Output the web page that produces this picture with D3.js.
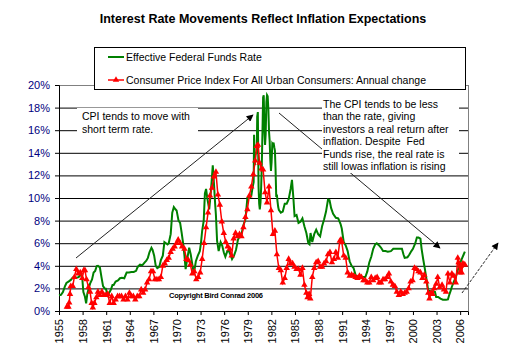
<!DOCTYPE html>
<html>
<head>
<meta charset="utf-8">
<script src="https://cdn.jsdelivr.net/npm/d3@7"></script>
<style>
body { margin: 0; background: #fff; }
svg { font-family: "Liberation Sans", Arial, sans-serif; }
</style>
</head>
<body>
<div id="chart"></div>
<script>
// values: [year, percent]
var fedFundsRate = [
 [1955.0,1.39],[1955.25,1.43],[1955.5,1.68],[1955.75,2.18],[1955.95,2.48],
 [1956.25,2.62],[1956.5,2.75],[1956.75,2.96],[1957.0,2.95],[1957.25,2.96],[1957.5,3.0],[1957.75,3.24],[1957.95,2.98],
 [1958.1,1.67],[1958.3,1.26],[1958.45,0.68],[1958.6,1.53],[1958.8,2.05],[1958.95,2.42],
 [1959.2,2.8],[1959.4,3.4],[1959.6,3.55],[1959.8,3.98],[1959.95,4.0],
 [1960.2,3.84],[1960.4,3.0],[1960.6,2.2],[1960.8,2.0],[1960.95,1.98],
 [1961.2,1.4],[1961.4,1.64],[1961.6,1.9],[1961.8,2.3],[1961.95,2.3],
 [1962.2,2.6],[1962.5,2.7],[1962.75,2.9],[1963.0,2.95],[1963.3,2.9],[1963.6,3.4],[1963.9,3.4],
 [1964.2,3.45],[1964.5,3.45],[1964.8,3.55],[1965.0,3.9],[1965.3,4.1],[1965.6,4.05],[1965.9,4.3],
 [1966.1,4.45],[1966.3,4.7],[1966.5,5.2],[1966.75,5.6],[1966.9,5.4],[1967.1,4.9],[1967.3,4.0],[1967.5,3.8],[1967.75,3.9],[1967.95,4.5],
 [1968.2,4.9],[1968.4,6.1],[1968.6,6.0],[1968.8,5.9],[1968.95,6.0],
 [1969.2,6.8],[1969.4,8.7],[1969.6,9.2],[1969.8,9.0],[1969.95,8.9],
 [1970.2,8.0],[1970.4,7.8],[1970.6,6.9],[1970.8,5.9],[1970.95,4.9],
 [1971.1,3.7],[1971.3,4.6],[1971.55,5.6],[1971.75,5.0],[1971.95,4.1],
 [1972.15,3.3],[1972.4,4.4],[1972.65,4.9],[1972.9,5.3],
 [1973.05,6.0],[1973.2,7.1],[1973.4,8.0],[1973.55,10.4],[1973.7,10.8],[1973.85,10.0],
 [1974.1,9.0],[1974.3,10.5],[1974.45,11.9],[1974.55,12.9],[1974.7,11.3],[1974.85,9.5],[1974.95,8.5],
 [1975.1,6.2],[1975.3,5.3],[1975.55,6.1],[1975.75,5.8],[1975.95,5.2],
 [1976.15,4.8],[1976.4,5.3],[1976.6,5.3],[1976.85,4.9],[1977.0,4.6],[1977.25,4.9],[1977.5,5.4],[1977.75,6.3],[1977.95,6.6],
 [1978.2,6.8],[1978.45,7.6],[1978.7,8.1],[1978.95,10.0],
 [1979.2,10.0],[1979.45,10.2],[1979.6,10.9],[1979.75,11.4],[1979.8,15.6],[1979.9,12.9],[1979.95,13.8],
 [1980.05,14.0],[1980.15,14.1],[1980.2,17.2],[1980.28,17.6],[1980.37,11.0],[1980.45,9.5],[1980.53,9.0],[1980.62,9.6],[1980.7,10.9],[1980.78,12.8],[1980.87,15.9],[1980.95,18.9],
 [1981.03,19.1],[1981.12,15.9],[1981.2,14.7],[1981.28,15.7],[1981.37,18.5],[1981.45,19.1],[1981.53,19.0],[1981.62,17.8],[1981.7,15.9],[1981.78,15.1],[1981.87,13.3],[1981.95,12.4],
 [1982.03,13.2],[1982.12,14.8],[1982.2,14.7],[1982.28,14.9],[1982.37,14.5],[1982.45,14.2],[1982.53,12.6],[1982.62,10.1],[1982.7,10.3],[1982.78,9.7],[1982.87,9.2],[1982.95,8.95],
 [1983.2,8.7],[1983.45,8.8],[1983.7,9.5],[1983.95,9.5],
 [1984.2,9.9],[1984.45,10.8],[1984.62,11.6],[1984.8,10.0],[1984.95,8.4],
 [1985.2,8.5],[1985.45,7.8],[1985.7,7.9],[1985.95,8.2],
 [1986.2,7.5],[1986.45,6.9],[1986.7,6.0],[1986.85,5.9],[1986.98,6.9],
 [1987.2,6.1],[1987.45,6.8],[1987.7,7.2],[1987.95,6.8],
 [1988.2,6.6],[1988.45,7.5],[1988.7,8.1],[1988.95,8.8],
 [1989.2,9.85],[1989.4,9.8],[1989.6,9.1],[1989.85,8.6],
 [1990.2,8.25],[1990.5,8.2],[1990.8,7.7],[1990.95,7.3],
 [1991.2,6.1],[1991.45,5.8],[1991.7,5.3],[1991.95,4.4],
 [1992.2,4.0],[1992.45,3.8],[1992.7,3.2],[1992.95,3.0],
 [1993.3,3.0],[1993.6,3.0],[1993.95,3.0],
 [1994.2,3.5],[1994.45,4.3],[1994.7,4.8],[1994.95,5.5],
 [1995.2,5.9],[1995.4,6.0],[1995.7,5.8],[1995.95,5.6],
 [1996.2,5.3],[1996.5,5.3],[1996.8,5.25],[1997.2,5.3],[1997.5,5.5],[1997.95,5.5],
 [1998.3,5.5],[1998.6,5.5],[1998.8,5.0],[1998.95,4.7],
 [1999.3,4.75],[1999.55,5.0],[1999.8,5.3],[2000.0,5.5],
 [2000.3,6.0],[2000.5,6.5],[2000.7,6.5],[2000.95,6.4],
 [2001.1,5.5],[2001.3,4.6],[2001.5,3.8],[2001.7,2.9],[2001.95,1.8],
 [2002.2,1.75],[2002.5,1.75],[2002.8,1.7],[2002.95,1.25],
 [2003.2,1.25],[2003.5,1.1],[2003.8,1.0],[2004.2,1.0],[2004.45,1.03],
 [2004.6,1.4],[2004.8,1.8],[2004.95,2.15],[2005.2,2.6],[2005.45,3.0],[2005.7,3.6],[2005.95,4.15],
 [2006.2,4.6],[2006.45,5.0],[2006.6,5.25]
];

var cpiAnnualChange = [
 [1956.0,0.37],[1956.2,0.37],[1956.3,0.74],[1956.4,1.5],[1956.5,2.2],[1956.75,2.2],[1956.95,3.0],
 [1957.2,3.7],[1957.45,3.3],[1957.7,3.4],[1957.95,2.9],
 [1958.15,3.6],[1958.3,3.6],[1958.5,2.8],[1958.75,2.1],[1958.95,1.7],
 [1959.15,0.7],[1959.3,0.3],[1959.5,0.7],[1959.75,1.2],[1959.95,1.7],
 [1960.2,1.4],[1960.45,1.7],[1960.7,1.4],[1960.95,1.4],
 [1961.2,1.5],[1961.45,0.7],[1961.7,1.3],[1961.95,0.7],
 [1962.2,1.0],[1962.45,1.3],[1962.7,1.3],[1962.95,1.3],
 [1963.2,1.0],[1963.45,1.3],[1963.7,1.0],[1963.95,1.6],
 [1964.2,1.3],[1964.45,1.3],[1964.7,1.0],[1964.95,1.3],
 [1965.2,1.3],[1965.45,1.9],[1965.7,1.6],[1965.95,1.9],
 [1966.2,2.5],[1966.45,2.8],[1966.7,3.5],[1966.95,3.5],
 [1967.2,2.8],[1967.45,2.8],[1967.7,2.8],[1967.95,3.0],
 [1968.2,4.0],[1968.45,4.2],[1968.7,4.5],[1968.95,4.7],
 [1969.2,5.2],[1969.45,5.5],[1969.7,5.7],[1969.95,6.0],
 [1970.15,6.3],[1970.4,6.0],[1970.65,5.7],[1970.95,5.5],
 [1971.2,4.6],[1971.45,4.5],[1971.7,4.1],[1971.95,3.3],
 [1972.2,3.5],[1972.45,2.8],[1972.7,3.0],[1972.95,3.4],
 [1973.2,4.6],[1973.45,6.0],[1973.7,7.4],[1973.95,8.7],
 [1974.2,10.2],[1974.45,10.9],[1974.7,11.9],[1974.95,12.3],
 [1975.2,10.3],[1975.45,9.4],[1975.7,7.9],[1975.95,6.9],
 [1976.2,6.1],[1976.45,5.7],[1976.7,5.5],[1976.95,4.9],
 [1977.2,6.4],[1977.45,6.9],[1977.7,6.6],[1977.95,6.8],
 [1978.2,6.6],[1978.45,7.4],[1978.7,8.3],[1978.95,9.0],
 [1979.2,10.2],[1979.45,11.0],[1979.7,12.1],[1979.95,13.3],
 [1980.15,14.6],[1980.3,14.7],[1980.5,13.1],[1980.75,12.6],[1980.95,12.5],
 [1981.2,10.5],[1981.45,9.6],[1981.7,11.0],[1981.95,8.9],
 [1982.2,6.8],[1982.45,7.1],[1982.7,5.0],[1982.95,3.8],
 [1983.2,3.6],[1983.45,2.5],[1983.7,2.9],[1983.95,3.8],
 [1984.2,4.6],[1984.45,4.2],[1984.7,4.2],[1984.95,3.9],
 [1985.2,3.7],[1985.45,3.7],[1985.7,3.2],[1985.95,3.8],
 [1986.2,2.3],[1986.45,1.6],[1986.6,1.2],[1986.8,1.5],[1986.95,1.1],
 [1987.2,3.0],[1987.45,3.8],[1987.7,4.3],[1987.95,4.4],
 [1988.2,3.9],[1988.45,3.9],[1988.7,4.2],[1988.95,4.4],
 [1989.2,5.0],[1989.45,5.2],[1989.7,4.3],[1989.95,4.6],
 [1990.2,5.2],[1990.45,4.7],[1990.7,6.2],[1990.85,6.3],[1990.95,6.1],
 [1991.2,4.9],[1991.45,4.7],[1991.7,3.4],[1991.95,3.1],
 [1992.2,3.2],[1992.45,3.1],[1992.7,3.0],[1992.95,2.9],
 [1993.2,3.1],[1993.45,3.0],[1993.7,2.7],[1993.95,2.7],
 [1994.2,2.5],[1994.45,2.5],[1994.7,3.0],[1994.95,2.7],
 [1995.2,2.9],[1995.45,3.0],[1995.7,2.5],[1995.95,2.5],
 [1996.2,2.8],[1996.45,2.8],[1996.7,3.0],[1996.95,3.3],
 [1997.2,2.6],[1997.45,2.3],[1997.7,2.2],[1997.95,1.7],
 [1998.2,1.4],[1998.45,1.7],[1998.7,1.5],[1998.95,1.6],
 [1999.2,1.7],[1999.45,2.0],[1999.7,2.6],[1999.95,2.7],
 [2000.2,3.8],[2000.45,3.7],[2000.7,3.5],[2000.95,3.4],
 [2001.2,2.9],[2001.45,3.2],[2001.7,2.6],[2001.95,1.6],
 [2002.1,1.1],[2002.3,1.6],[2002.5,1.5],[2002.7,2.0],[2002.95,2.4],
 [2003.15,3.0],[2003.4,2.1],[2003.7,2.3],[2003.95,1.9],
 [2004.2,1.7],[2004.45,3.3],[2004.7,2.5],[2004.95,3.3],
 [2005.2,3.1],[2005.45,2.5],[2005.7,4.7],[2005.8,4.3],[2005.95,3.4],
 [2006.1,4.0],[2006.2,3.4],[2006.35,4.2],[2006.5,4.1],[2006.6,4.1]
];

var yearTicks = [1955,1958,1961,1964,1967,1970,1973,1976,1979,1982,1985,1988,1991,1994,1997,2000,2003,2006];
var percentTicks = [0,2,4,6,8,10,12,14,16,18,20];

var chartTitle = "Interest Rate Movements Reflect Inflation Expectations";
var seriesNames = ["Effective Federal Funds Rate", "Consumer Price Index For All Urban Consumers: Annual change"];
var note1 = ["CPI tends to move with", "short term rate."];
var note2 = ["The CPI tends to be less", "than the rate, giving", "investors a real return after",
             "inflation. Despite  Fed", "Funds rise, the real rate is", "still lowas inflation is rising"];
var copyrightText = "Copyright Bird Conrad 2006";

var W = 516, H = 353;
var plotLeft = 59, plotRight = 468, plotTop = 85, plotBottom = 311;

var svg = d3.select("#chart").append("svg")
  .attr("width", W).attr("height", H);

var defs = svg.append("defs");
defs.append("marker")
  .attr("id", "arrow")
  .attr("viewBox", "0 0 10 10")
  .attr("refX", 9).attr("refY", 5)
  .attr("markerWidth", 9).attr("markerHeight", 7)
  .attr("markerUnits", "userSpaceOnUse")
  .attr("orient", "auto")
  .append("path").attr("d", "M0,0 L10,5 L0,10 z").attr("fill", "#000");

var x = d3.scaleLinear().domain([1955, 2007]).range([plotLeft, plotRight]);
var y = d3.scaleLinear().domain([0, 20]).range([plotBottom, plotTop]);

// title
svg.append("text")
  .attr("x", 263).attr("y", 23)
  .attr("text-anchor", "middle")
  .style("font-weight", "bold").style("font-size", "12.5px")
  .text(chartTitle);

// gridlines
svg.append("g")
  .attr("transform", "translate(" + plotLeft + ",0)")
  .call(d3.axisLeft(y).tickValues(percentTicks.slice(1, -1)).tickSize(-(plotRight - plotLeft)).tickFormat(""))
  .call(function(g) {
    g.select(".domain").remove();
    g.selectAll("line").attr("stroke", "#000");
  });

// plot border top / right
svg.append("line").attr("x1", plotLeft).attr("x2", plotRight).attr("y1", plotTop + 0.5).attr("y2", plotTop + 0.5)
  .attr("stroke", "#808080");
svg.append("line").attr("x1", plotRight + 0.5).attr("x2", plotRight + 0.5).attr("y1", plotTop).attr("y2", plotBottom)
  .attr("stroke", "#808080");

// y axis
svg.append("g")
  .attr("transform", "translate(" + plotLeft + ",0)")
  .call(d3.axisLeft(y).tickValues(percentTicks).tickSize(4).tickPadding(5).tickFormat(function(d) { return d + "%"; }))
  .call(function(g) {
    g.select(".domain").attr("stroke", "#000");
    g.selectAll("line").attr("stroke", "#000");
    g.selectAll("text").attr("fill", "#000080")
      .style("font-size", "11px").style("font-family", "'Liberation Sans', Arial, sans-serif");
  });

// x axis
svg.append("g")
  .attr("transform", "translate(0," + plotBottom + ")")
  .call(d3.axisBottom(x).tickValues(yearTicks).tickSize(4).tickFormat(d3.format("d")))
  .call(function(g) {
    g.select(".domain").attr("stroke", "#000");
    g.selectAll("line").attr("stroke", "#000");
    g.selectAll("text")
      .attr("transform", "rotate(-90)")
      .attr("x", -8).attr("y", 0).attr("dy", "0.35em")
      .style("text-anchor", "end")
      .attr("fill", "#000")
      .style("font-size", "11px").style("font-family", "'Liberation Sans', Arial, sans-serif");
  });

// fed funds line
var line = d3.line()
  .x(function(d) { return x(d[0]); })
  .y(function(d) { return y(d[1]); });

svg.append("path")
  .datum(fedFundsRate)
  .attr("d", line)
  .attr("fill", "none")
  .attr("stroke", "#008000")
  .attr("stroke-width", 2);

// cpi line + triangle markers
svg.append("path")
  .datum(cpiAnnualChange)
  .attr("d", line)
  .attr("fill", "none")
  .attr("stroke", "#ff0000")
  .attr("stroke-width", 1.5);

var tri = d3.symbol().type(d3.symbolTriangle).size(18);
svg.selectAll(".cpiMark")
  .data(cpiAnnualChange)
  .enter()
  .append("path")
  .attr("class", "cpiMark")
  .attr("d", tri)
  .attr("transform", function(d) { return "translate(" + x(d[0]) + "," + y(d[1]) + ")"; })
  .attr("fill", "#ff0000");

// copyright
svg.append("text")
  .attr("x", 169).attr("y", 298)
  .style("font-size", "7.5px").style("font-weight", "bold")
  .attr("textLength", 94)
  .text(copyrightText);

// arrows
svg.append("line")
  .attr("x1", 76).attr("y1", 258).attr("x2", 253).attr("y2", 115)
  .attr("stroke", "#222").attr("stroke-width", 1)
  .attr("marker-end", "url(#arrow)");
svg.append("line")
  .attr("x1", 279).attr("y1", 113).attr("x2", 440).attr("y2", 248)
  .attr("stroke", "#222").attr("stroke-width", 1)
  .attr("marker-end", "url(#arrow)");
svg.append("line")
  .attr("x1", 462).attr("y1", 293).attr("x2", 498).attr("y2", 243)
  .attr("stroke", "#222").attr("stroke-width", 1)
  .attr("stroke-dasharray", "3,1.5")
  .attr("marker-end", "url(#arrow)");

// note boxes
svg.append("rect").attr("x", 77).attr("y", 108).attr("width", 121).attr("height", 34).attr("fill", "#fff");
svg.append("text")
  .attr("x", 82).attr("y", 120)
  .style("font-size", "10.5px")
  .selectAll("tspan").data(note1).enter().append("tspan")
  .attr("x", 82).attr("dy", function(d, i) { return i ? 13 : 0; })
  .text(function(d) { return d; });

svg.append("rect").attr("x", 322).attr("y", 97).attr("width", 137).attr("height", 76).attr("fill", "#fff");
svg.append("text")
  .attr("x", 323).attr("y", 108)
  .style("font-size", "10.5px")
  .style("white-space", "pre")
  .selectAll("tspan").data(note2).enter().append("tspan")
  .attr("x", 323).attr("dy", function(d, i) { return i ? 12.4 : 0; })
  .text(function(d) { return d; });

// legend
var lg = svg.append("g");
lg.append("rect").attr("x", 94.5).attr("y", 47.5).attr("width", 371).attr("height", 42)
  .attr("fill", "#fff").attr("stroke", "#000");
lg.append("line").attr("x1", 108).attr("x2", 124).attr("y1", 57).attr("y2", 57)
  .attr("stroke", "#008000").attr("stroke-width", 2);
lg.append("line").attr("x1", 108).attr("x2", 124).attr("y1", 80).attr("y2", 80)
  .attr("stroke", "#ff0000").attr("stroke-width", 1.5);
lg.append("path").attr("d", tri).attr("transform", "translate(116,80)").attr("fill", "#ff0000");
lg.selectAll(".lt").data(seriesNames).enter().append("text")
  .attr("class", "lt")
  .attr("x", 126)
  .attr("y", function(d, i) { return i ? 84 : 61; })
  .style("font-size", "10.5px")
  .text(function(d) { return d; });
</script>
</body>
</html>
